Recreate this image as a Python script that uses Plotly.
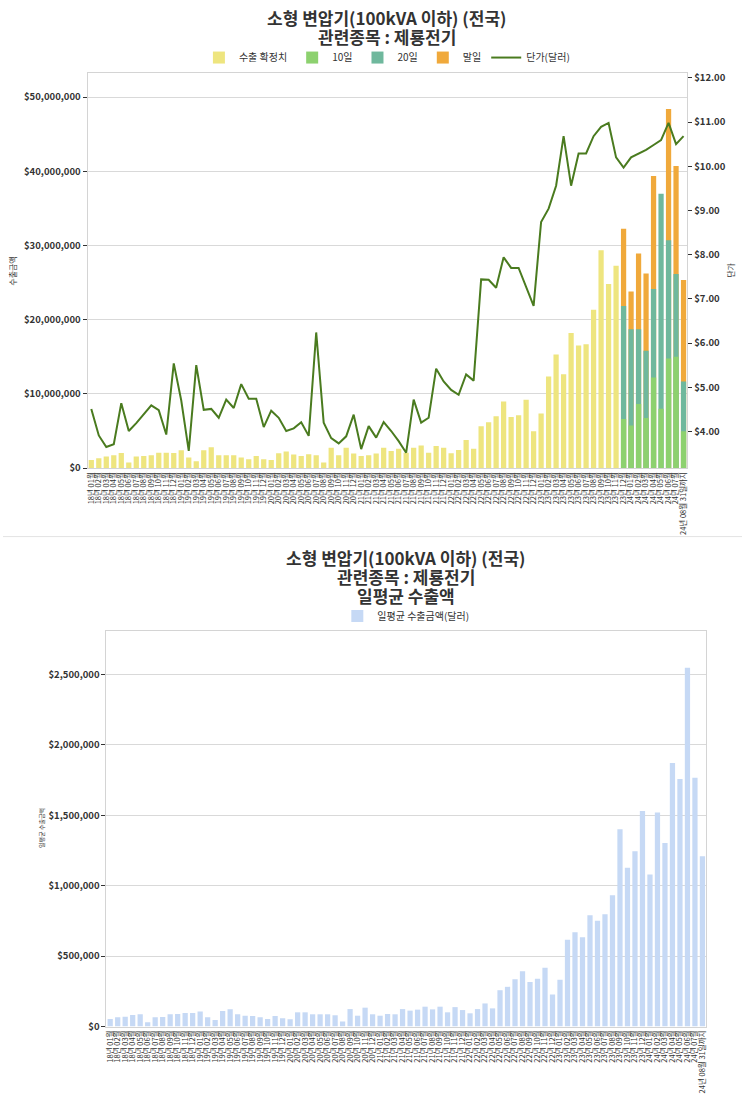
import plotly.graph_objects as go

# ---------------- data ----------------
years = [18, 19, 20, 21, 22, 23, 24]
labels = []
for yy in years:
    for mm in range(1, 13):
        if yy == 24 and mm > 7:
            break
        labels.append(f"{yy}년 {mm:02d}월")
labels.append("24년 08월 31일까지")

# 수출 확정치 (USD millions) for 18-01 .. 23-11
export_confirmed_m = [
    1.11, 1.34, 1.56, 1.74, 2.05, 0.76, 1.56, 1.65, 1.74, 2.09, 2.09, 2.05,
    2.41, 1.43, 0.94, 2.41, 2.81, 1.74, 1.74, 1.74, 1.43, 1.20, 1.65, 1.20,
    1.11, 2.00, 2.23, 1.85, 1.65, 1.87, 1.74, 0.76, 2.76, 1.74, 2.76, 1.96,
    1.65, 1.74, 1.96, 2.76, 2.32, 2.63, 2.09, 2.76, 3.07, 2.09, 2.99, 2.76,
    2.00, 2.45, 3.79, 2.63, 5.66, 6.19, 7.00, 9.00, 6.90, 7.13, 9.22, 4.99,
    7.35, 12.34, 15.33, 12.66, 18.23, 16.53, 16.71, 21.35, 29.37, 24.82, 27.27,
]
# cumulative preliminary figures (USD millions) for 23-12 .. 24-08
day10_m = [6.64, 5.75, 8.65, 6.77, 12.21, 8.02, 14.79, 15.02, 4.99]
day20_m = [21.84, 18.72, 18.72, 15.82, 24.15, 36.99, 30.70, 26.16, 11.68]
dayend_m = [32.26, 23.80, 28.92, 26.25, 39.39, None, 48.40, 40.73, 25.36]

unit_price = [
    4.51, 3.91, 3.65, 3.71, 4.64, 4.01, 4.19, 4.39, 4.59, 4.48, 3.93, 5.54,
    4.70, 3.56, 5.50, 4.49, 4.51, 4.31, 4.72, 4.53, 5.07, 4.74, 4.74, 4.10,
    4.47, 4.31, 4.01, 4.07, 4.21, 3.90, 6.24, 4.20, 3.85, 3.73, 3.89, 4.38,
    3.60, 4.12, 3.86, 4.21, 4.01, 3.78, 3.52, 4.72, 4.20, 4.31, 5.42, 5.13,
    4.94, 4.83, 5.29, 5.15, 7.44, 7.43, 7.25, 7.94, 7.70, 7.70, 7.29, 6.84,
    8.74, 9.04, 9.56, 10.68, 9.56, 10.29, 10.29, 10.68, 10.89, 10.98, 10.20,
    9.97, 10.20, 10.29, 10.37, 10.48, 10.59, 10.98, 10.50, 10.68,
]

daily_avg_k = [
    54, 66, 70, 82, 87, 31, 66, 68, 87, 89, 96, 96,
    106, 66, 47, 110, 122, 87, 77, 75, 66, 54, 75, 59,
    52, 101, 101, 87, 87, 87, 80, 35, 124, 77, 134, 87,
    77, 89, 87, 124, 113, 120, 141, 122, 141, 101, 138, 117,
    94, 124, 164, 129, 258, 282, 336, 393, 317, 340, 418, 228,
    333, 617, 669, 634, 791, 751, 798, 932, 1401, 1127, 1244,
    1530, 1080, 1519, 1303, 1871, 1758, 2547, 1767, 1209,
]

# ---------------- derived ----------------
n_conf = len(export_confirmed_m)
M = 1e6
conf_y = [v * M for v in export_confirmed_m] + [None] * (len(labels) - n_conf)
pad = [None] * n_conf
d10_y = pad + [v * M for v in day10_m]
d20_y = pad + [v * M for v in day20_m]
dend_y = pad + [(v * M if v is not None else None) for v in dayend_m]
daily_y = [v * 1000 for v in daily_avg_k]

FONT = "Noto Sans CJK KR"
TXT = "#333333"
W, H = 743, 1098

def px(xp):
    return xp / W

def py(yp):
    return 1 - yp / H

fig = go.Figure()

# top chart bars (overlay, drawn tallest first)
fig.add_trace(go.Bar(x=labels, y=conf_y, name="수출 확정치", marker_color="#EEE57F",
                     marker_line_width=0, legendrank=1, legend="legend",
                     xaxis="x", yaxis="y"))
fig.add_trace(go.Bar(x=labels, y=dend_y, name="말일", marker_color="#F0A93B",
                     marker_line_width=0, legendrank=4, legend="legend",
                     xaxis="x", yaxis="y"))
fig.add_trace(go.Bar(x=labels, y=d20_y, name="20일", marker_color="#6FB89D",
                     marker_line_width=0, legendrank=3, legend="legend",
                     xaxis="x", yaxis="y"))
fig.add_trace(go.Bar(x=labels, y=d10_y, name="10일", marker_color="#8DD16F",
                     marker_line_width=0, legendrank=2, legend="legend",
                     xaxis="x", yaxis="y"))
fig.add_trace(go.Scatter(x=labels, y=unit_price, name="단가(달러)", mode="lines",
                         line=dict(color="#4A7B1F", width=2), legendrank=5,
                         legend="legend", xaxis="x", yaxis="y2"))

# bottom chart
fig.add_trace(go.Bar(x=labels, y=daily_y, name="일평균 수출금액(달러)",
                     marker_color="#C6D9F5", marker_line_width=0,
                     legend="legend2", xaxis="x2", yaxis="y3"))

tickfont = dict(family=FONT, size=9.5, color=TXT, weight="bold")
xtickfont = dict(family=FONT, size=7.5, color=TXT)
frame = dict(showline=True, mirror=True, linecolor="#d4d4d4", linewidth=1)

fig.update_layout(
    width=W, height=H,
    margin=dict(l=0, r=0, t=0, b=0),
    paper_bgcolor="white", plot_bgcolor="white",
    barmode="overlay", bargap=0.3,
    font=dict(family=FONT, color=TXT),
    showlegend=True,
    xaxis=dict(domain=[px(85), px(688)], anchor="y", range=[-0.5, 79.5],
               tickmode="linear", dtick=1, tick0=0,
               tickangle=-90, tickfont=xtickfont, showgrid=False, ticks="",
               **frame),
    yaxis=dict(domain=[py(469), py(71)], anchor="x", range=[0, 53.2e6],
               tickvals=[0, 1e7, 2e7, 3e7, 4e7, 5e7],
               tickformat="$,.0f", showgrid=True, gridcolor="#d9d9d9",
               zeroline=False, ticks="outside", ticklen=4, tickcolor=TXT,
               tickfont=tickfont, **frame),
    yaxis2=dict(overlaying="y", side="right", anchor="x", range=[3.17, 12.1],
                dtick=1, tick0=0, tickformat="$.2f",
                showgrid=False, zeroline=False, ticks="outside", ticklen=4,
                tickcolor=TXT, tickfont=tickfont, showline=True,
                linecolor="#d4d4d4"),
    xaxis2=dict(domain=[px(104), px(707)], anchor="y3", range=[-0.5, 79.5],
                tickmode="linear", dtick=1, tick0=0,
                tickangle=-90, tickfont=xtickfont, showgrid=False, ticks="",
                **frame),
    yaxis3=dict(domain=[py(1032), py(633)], anchor="x2", range=[0, 2810000],
                tickvals=[0, 5e5, 1e6, 1.5e6, 2e6, 2.5e6],
                tickformat="$,.0f", showgrid=True, gridcolor="#d9d9d9",
                zeroline=False, ticks="outside", ticklen=4, tickcolor=TXT,
                tickfont=tickfont, **frame),
    legend=dict(orientation="h", x=px(386), xanchor="center", y=py(55),
                yanchor="middle", font=dict(family=FONT, size=10, color=TXT),
                bgcolor="rgba(0,0,0,0)", traceorder="normal"),
    legend2=dict(orientation="h", x=px(405), xanchor="center", y=py(618),
                 yanchor="middle", font=dict(family=FONT, size=10, color=TXT),
                 bgcolor="rgba(0,0,0,0)"),
)

title_font = dict(family=FONT, size=17, color=TXT, weight="bold")
annos = [
    ("소형 변압기(100kVA 이하) (전국)", 386, 15),
    ("관련종목 : 제룡전기", 386, 34),
    ("소형 변압기(100kVA 이하) (전국)", 405, 559),
    ("관련종목 : 제룡전기", 405, 578),
    ("일평균 수출액", 405, 597),
]
for text, xx, yy in annos:
    fig.add_annotation(text=text, x=px(xx), y=py(yy), xref="paper", yref="paper",
                       showarrow=False, xanchor="center", yanchor="middle",
                       font=title_font)

axis_titles = [
    ("수출금액", 10, 270, 8),
    ("단가", 732, 270, 8),
    ("일평균 수출금액", 38, 832, 6),
]
for text, xx, yy, sz in axis_titles:
    fig.add_annotation(text=text, x=px(xx), y=py(yy), xref="paper", yref="paper",
                       showarrow=False, textangle=-90, xanchor="center",
                       yanchor="middle", font=dict(family=FONT, size=sz, color=TXT))

fig.add_shape(type="line", xref="paper", yref="paper", x0=0, x1=1,
              y0=py(538), y1=py(538), line=dict(color="#e3e3e3", width=1))

# remove the default page margin so the figure sits at the window origin
fig.write_html("out.html",
               config={"displayModeBar": False},
               post_script="document.body.style.margin='0';"
                           "document.body.style.overflow='hidden';")
